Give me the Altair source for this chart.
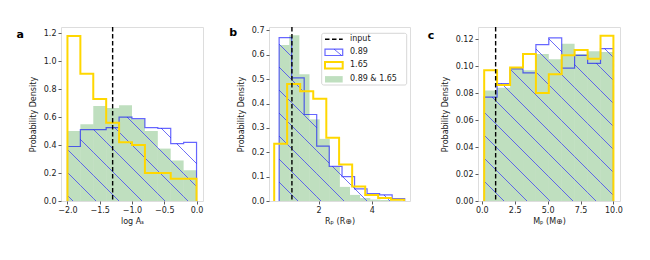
import altair as alt
import numpy as np
import pandas as pd

FONT = "DejaVu Sans"
BLUE = "#0000ff"
HATCH = "#3c3cf5"
GOLD = "#FFD700"
GREEN = "#008000"
TXT = "#222222"

# ---------------- data ----------------
series_labels = ["input", "0.89", "1.65", "0.89 & 1.65"]
panel_letters = ["a", "b", "c"]
x_titles = ["log A\u209b", "R\u209a (R\u2295)", "M\u209a (M\u2295)"]
y_title = "Probability Density"

# panel a : log A_s
a_edges = [-2.0, -1.8, -1.6, -1.4, -1.2, -1.0, -0.8, -0.6, -0.4, -0.2, 0.0]
a_blue = [0.39, 0.51, 0.51, 0.525, 0.60, 0.59, 0.525, 0.52, 0.41, 0.42]
a_yellow = [1.18, 0.91, 0.73, 0.56, 0.42, 0.40, 0.20, 0.20, 0.16, 0.16]
a_green = [0.50, 0.55, 0.68, 0.665, 0.685, 0.585, 0.50, 0.375, 0.29, 0.22]
a_input = -1.3
a_xticks = [-2.0, -1.5, -1.0, -0.5, 0.0]
a_yticks = [0.0, 0.2, 0.4, 0.6, 0.8, 1.0, 1.2]

# panel b : R_p
b_blue_edges = [0.52, 0.99, 1.46, 1.93, 2.40, 2.88, 3.35, 3.82, 4.29, 4.76, 5.23]
b_blue = [0.67, 0.505, 0.355, 0.225, 0.142, 0.10, 0.05, 0.03, 0.025, 0.01]
b_yellow_edges = [0.335, 0.82, 1.31, 1.80, 2.29, 2.77, 3.26, 3.75, 4.235, 4.72, 5.21]
b_yellow = [0.235, 0.48, 0.45, 0.42, 0.26, 0.15, 0.06, 0.025, 0.012, 0.005]
b_green_edges = [0.52, 0.90, 1.28, 1.66, 2.04, 2.42, 2.80, 3.18, 3.56, 3.94, 4.32, 4.70, 5.08]
b_green = [0.64, 0.68, 0.52, 0.335, 0.255, 0.14, 0.058, 0.025, 0.012, 0.006, 0.004, 0.002]
b_input = 1.0
b_xticks = [2, 4]
b_yticks = [0.0, 0.1, 0.2, 0.3, 0.4, 0.5, 0.6, 0.7]

# panel c : M_p
c_edges = [0.18, 1.16, 2.15, 3.13, 4.11, 5.09, 6.07, 7.05, 8.04, 9.02, 10.0]
c_blue = [0.077, 0.087, 0.098, 0.095, 0.116, 0.121, 0.0985, 0.108, 0.102, 0.113]
c_yellow = [0.097, 0.086, 0.099, 0.109, 0.080, 0.094, 0.108, 0.112, 0.1055, 0.1225]
c_green = [0.082, 0.084, 0.099, 0.097, 0.109, 0.105, 0.1165, 0.109, 0.111, 0.1105]
c_input = 1.05
c_xticks = [0.0, 2.5, 5.0, 7.5, 10.0]
c_yticks = [0.0, 0.02, 0.04, 0.06, 0.08, 0.10, 0.12]


# ---------------- helpers ----------------
def bars_df(edges, heights):
    return pd.DataFrame({"x0": edges[:-1], "x1": edges[1:], "h": heights, "z": 0.0})


def step_df(edges, heights):
    xs, ys = [edges[0]], [0.0]
    for i, h in enumerate(heights):
        xs += [edges[i], edges[i + 1]]
        ys += [h, h]
    xs.append(edges[-1])
    ys.append(0.0)
    return pd.DataFrame({"x": xs, "y": ys, "i": range(len(xs))})


def hatch_df(edges, heights, xdom, ydom, W, H, spacing, phase):
    x0, x1 = xdom
    y0, y1 = ydom
    rows = []
    cs = np.arange(phase, W + H + spacing, spacing)
    for i, h in enumerate(heights):
        ua = (edges[i] - x0) / (x1 - x0) * W
        ub = (edges[i + 1] - x0) / (x1 - x0) * W
        vh = (h - y0) / (y1 - y0) * H
        for c in cs:
            us = max(ua, c - vh)
            ue = min(ub, c)
            if ue - us > 0.05:
                rows.append({
                    "x": x0 + us / W * (x1 - x0),
                    "x2": x0 + ue / W * (x1 - x0),
                    "y": y0 + (c - us) / H * (y1 - y0),
                    "y2": y0 + (c - ue) / H * (y1 - y0),
                })
    return pd.DataFrame(rows)


def lab_expr(fmt):
    return "replace(format(datum.value, '" + fmt + "'), '-', '\u2212')"


def panel(blue_edges, blue, yellow_edges, yellow, green_edges, green,
          xdom, ydom, W, H, xticks, xfmt, yticks, yfmt, xtitle,
          letter, letter_xy, vline, phase, legend=False):
    xs = alt.Scale(domain=xdom, nice=False, zero=False)
    ys = alt.Scale(domain=ydom, nice=False, zero=False)
    common = dict(grid=False, domain=False, tickSize=3, tickColor="#333333",
                  tickWidth=0.8, labelColor=TXT, titleColor=TXT, labelFontSize=8,
                  titleFontSize=8, titleFontWeight="normal", labelFont=FONT,
                  titleFont=FONT)
    xax = alt.Axis(values=xticks, labelExpr=lab_expr(xfmt), title=xtitle,
                   labelPadding=2, titlePadding=3, **common)
    yax = alt.Axis(values=yticks, labelExpr=lab_expr(yfmt), title=y_title,
                   labelPadding=2, titlePadding=6, **common)

    def X(f):
        return alt.X(f, type="quantitative", scale=xs, axis=xax)

    def Y(f):
        return alt.Y(f, type="quantitative", scale=ys, axis=yax)

    g = alt.Chart(bars_df(green_edges, green)).mark_rect(
        color=GREEN, opacity=0.25).encode(x=X("x0"), x2="x1", y=Y("h"), y2="z")
    hatch = alt.Chart(hatch_df(blue_edges, blue, xdom, ydom, W, H, 23, phase)).mark_rule(
        color=HATCH, opacity=1, strokeWidth=0.75).encode(x=X("x"), x2="x2", y=Y("y"), y2="y2")
    bl = alt.Chart(step_df(blue_edges, blue)).mark_line(
        color=BLUE, opacity=0.6, strokeWidth=1.2, strokeJoin="miter").encode(
        x=X("x"), y=Y("y"), order="i:Q")
    yl = alt.Chart(step_df(yellow_edges, yellow)).mark_line(
        color=GOLD, strokeWidth=2, strokeJoin="miter").encode(
        x=X("x"), y=Y("y"), order="i:Q")
    vl = alt.Chart(pd.DataFrame({"v": [vline]})).mark_rule(
        color="black", strokeDash=[4.5, 2.5], strokeWidth=1.4).encode(x=X("v"))
    lt = alt.Chart(pd.DataFrame({"t": [letter]})).mark_text(
        font=FONT, fontSize=11, fontWeight="bold", color="black",
        align="center", baseline="middle").encode(
        x=alt.value(letter_xy[0]), y=alt.value(letter_xy[1]), text="t:N")
    layers = [g, hatch, bl, yl, vl, lt]

    if legend:
        one = pd.DataFrame({"k": [0]})
        lx0, lx1 = 52.7, 137.7
        sx0, sx1 = 56, 73.7
        tx = 81
        rows_y = [12.3, 25.3, 38.3, 52.3]
        box = alt.Chart(one).mark_rect(fill="white", fillOpacity=0.85, stroke="#cccccc",
                                       strokeWidth=0.8, cornerRadius=2).encode(
            x=alt.value(lx0), x2=alt.value(lx1), y=alt.value(6.3), y2=alt.value(58))
        l_in = alt.Chart(one).mark_rule(color="black", strokeDash=[4.5, 2.5], strokeWidth=1.4).encode(
            x=alt.value(sx0), x2=alt.value(sx1), y=alt.value(rows_y[0]))
        l_b = alt.Chart(one).mark_rect(fill="white", fillOpacity=0, stroke=BLUE, strokeOpacity=0.6,
                                       strokeWidth=1.2).encode(
            x=alt.value(sx0), x2=alt.value(sx1), y=alt.value(rows_y[1] - 3.2), y2=alt.value(rows_y[1] + 3.2))
        l_bh = alt.Chart(one).mark_rule(color=HATCH, strokeWidth=0.75).encode(
            x=alt.value(sx0 + 9), x2=alt.value(sx1 - 1), y=alt.value(rows_y[1] - 3.2), y2=alt.value(rows_y[1] + 3.2))
        l_y = alt.Chart(one).mark_rect(fill="white", fillOpacity=0, stroke=GOLD, strokeWidth=2).encode(
            x=alt.value(sx0), x2=alt.value(sx1), y=alt.value(rows_y[2] - 3.2), y2=alt.value(rows_y[2] + 3.2))
        l_g = alt.Chart(one).mark_rect(fill=GREEN, fillOpacity=0.25).encode(
            x=alt.value(sx0), x2=alt.value(sx1), y=alt.value(rows_y[3] - 3.2), y2=alt.value(rows_y[3] + 3.2))
        layers += [box, l_in, l_b, l_bh, l_y, l_g]
        for lab, yy in zip(series_labels, rows_y):
            layers.append(alt.Chart(pd.DataFrame({"t": [lab]})).mark_text(
                font=FONT, fontSize=8, color=TXT, align="left", baseline="middle").encode(
                x=alt.value(tx), y=alt.value(yy), text="t:N"))

    return alt.layer(*layers).properties(width=W, height=H)


H = 174
pa = panel(a_edges, a_blue, a_edges, a_yellow, a_edges, a_green,
           [-2.1, 0.1], [0, 1.245], 142, H, a_xticks, ".1f", a_yticks, ".1f",
           x_titles[0], panel_letters[0], (-40.7, 8.3), a_input, 12.0)
pb = panel(b_blue_edges, b_blue, b_yellow_edges, b_yellow, b_green_edges, b_green,
           [0.14, 5.43], [0, 0.714], 141, H, b_xticks, "d", b_yticks, ".1f",
           x_titles[1], panel_letters[1], (-35.7, 6.3), b_input, 6.0, legend=True)
pc = panel(c_edges, c_blue, c_edges, c_yellow, c_edges, c_green,
           [-0.29, 10.5], [0, 0.129], 142, H, c_xticks, ".1f", c_yticks, ".2f",
           x_titles[2], panel_letters[2], (-47, 8.8), c_input, 3.0)

chart = alt.hconcat(alt.hconcat(pa, pb, spacing=24), pc, spacing=16).properties(
    padding={"left": 8, "top": 17, "right": 0, "bottom": 0}
).configure_view(stroke="#333333", strokeWidth=0.8).configure(font=FONT)

chart.save("out.html", embed_options={"renderer": "svg", "actions": False})
